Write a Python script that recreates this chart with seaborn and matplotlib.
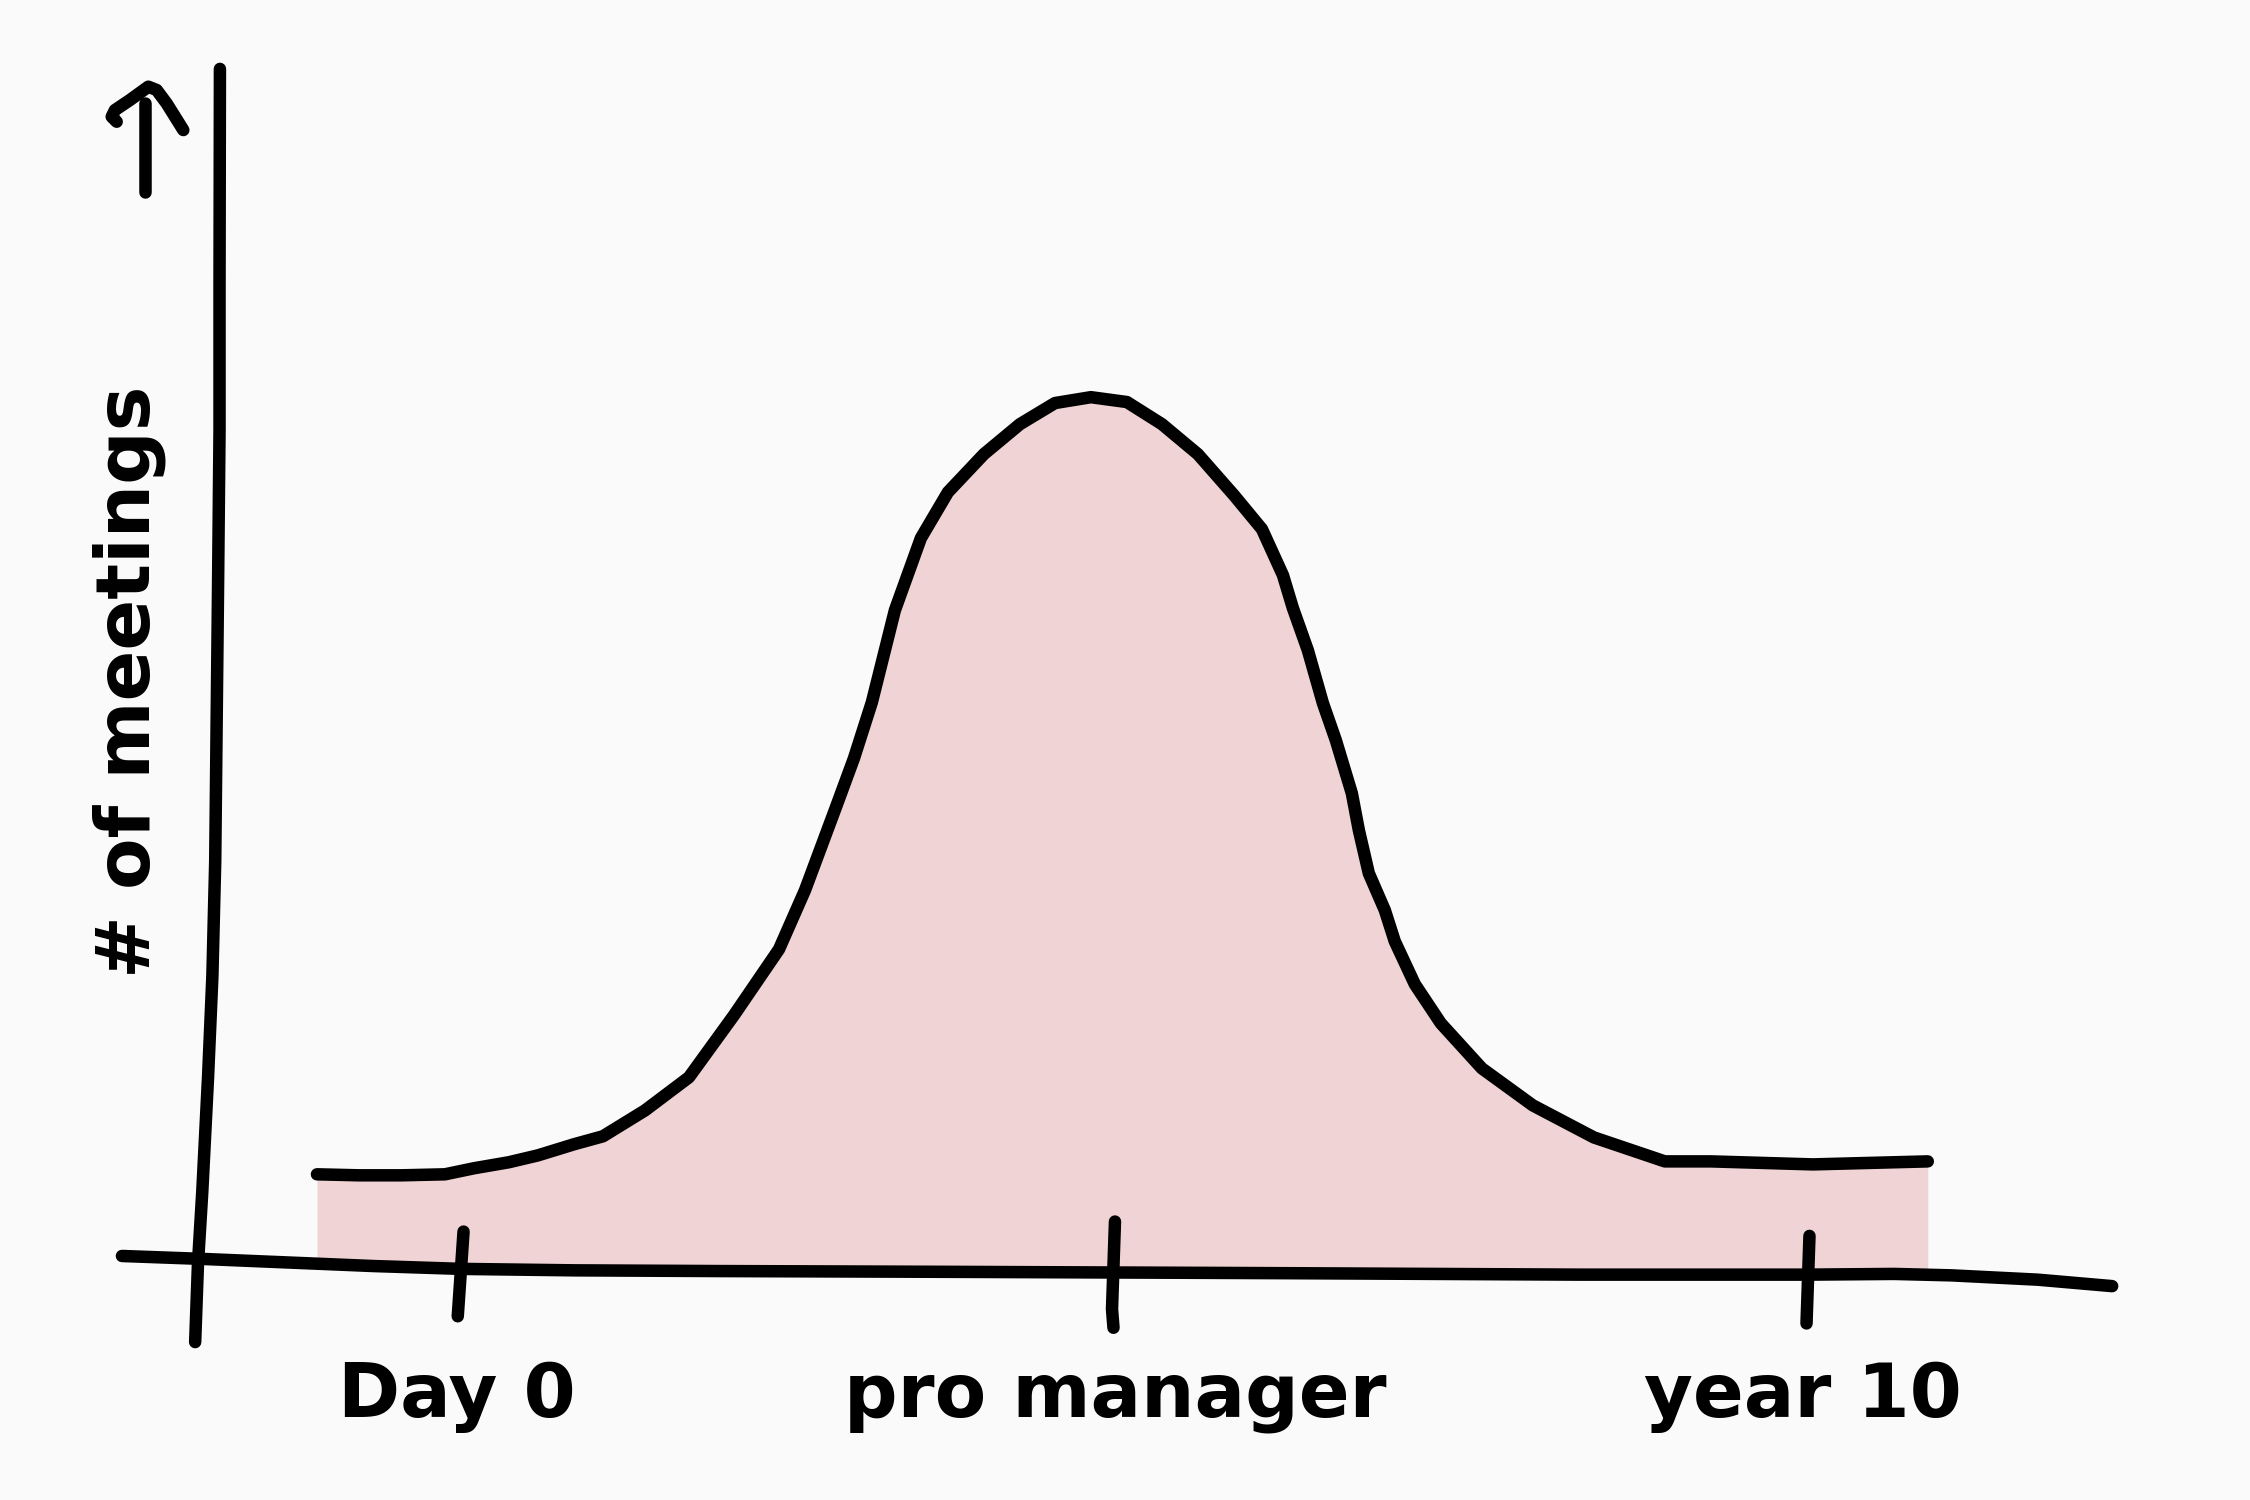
import numpy as np
import pandas as pd
import matplotlib
matplotlib.use("Agg")
import matplotlib.pyplot as plt
import seaborn as sns

# ---- data (x in years since day 0, y = # of meetings, arbitrary units) ----
curve_years = [-1.078, -0.766, -0.447, -0.127, 0.088, 0.348, 0.564, 0.831, 1.047, 1.359,
               1.686, 2.020, 2.355, 2.548, 2.786, 2.912, 3.045, 3.216, 3.409, 3.610,
               3.877, 4.145, 4.405, 4.672, 4.940, 5.200, 5.467, 5.735, 5.943, 6.099,
               6.173, 6.284, 6.396, 6.492, 6.611, 6.663, 6.737, 6.856, 6.930, 7.079,
               7.272, 7.577, 7.956, 8.409, 8.936, 9.278, 10.036, 10.890]
curve_meetings = [6.19, 6.12, 6.12, 6.19, 6.61, 7.03, 7.51, 8.28, 8.84, 10.64,
                  12.95, 17.27, 21.87, 25.98, 31.97, 35.18, 39.08, 45.49, 50.51, 53.71,
                  56.36, 58.45, 59.92, 60.33, 59.99, 58.45, 56.36, 53.50, 51.14, 47.93,
                  45.63, 42.70, 39.01, 36.43, 32.73, 30.16, 27.16, 24.59, 22.42, 19.43,
                  16.71, 13.57, 10.99, 8.76, 7.09, 7.09, 6.88, 7.09]

# hand-drawn axes paths
xaxis_years = [-2.527, -1.940, -1.301, -0.661, 0.0, 0.832, 1.898, 3.497, 4.840, 6.162,
               7.228, 8.294, 9.360, 10.0, 10.64, 11.066, 11.706, 12.26]
xaxis_level = [0.5, 0.3, 0.05, -0.2, -0.4, -0.5, -0.55, -0.6, -0.65, -0.7,
               -0.75, -0.8, -0.8, -0.8, -0.75, -0.85, -1.15, -1.6]
yaxis_years = [-1.799, -1.802, -1.802, -1.812, -1.823, -1.834, -1.855, -1.887, -1.930, -1.962, -1.983]
yaxis_level = [83.2, 68.0, 58.0, 48.0, 38.0, 28.0, 20.0, 13.0, 5.0, 0.0, -5.5]

tick_labels = ["Day 0", "pro manager", "year 10"]
tick_label_x = [-0.04, 4.85, 9.96]
tick_paths_x = [[0.011, -0.032], [4.851, 4.829, 4.840], [10.011, 9.989]]
tick_paths_y = [[2.2, -3.7], [2.9, -3.2, -4.5], [1.9, -4.2]]

arrow_shaft_x = [-2.356, -2.356]
arrow_shaft_y = [80.80, 74.64]
arrow_head_x = [-2.566, -2.603, -2.579, -2.468, -2.331, -2.269, -2.195, -2.071]
arrow_head_y = [79.52, 79.87, 80.33, 81.03, 81.96, 81.73, 80.80, 78.94]

y_label = "# of meetings"

# ---- style ----
BG = "#fafafa"
FILL = "#f0d4d5"
INK = "#000000"
sns.set_theme(style="white", rc={"figure.facecolor": BG, "axes.facecolor": BG})
plt.rcParams["font.family"] = ["DejaVu Sans"]

fig = plt.figure(figsize=(15, 10), dpi=150)
ax = fig.add_axes([0, 0, 1, 1])
ax.set_xlim(-3.433, 13.284)
ax.set_ylim(-16.5, 88.0)
ax.axis("off")

df = pd.DataFrame({"years": curve_years, "meetings": curve_meetings})

# fill under the curve down to the hand-drawn x-axis
lower = np.interp(df["years"], xaxis_years, xaxis_level)
ax.fill_between(df["years"], lower, df["meetings"], color=FILL, linewidth=0, zorder=1)

lw = 6.0
sns.lineplot(data=df, x="years", y="meetings", sort=False, estimator=None,
             color=INK, linewidth=lw, ax=ax, zorder=3)
for ln in ax.lines:
    ln.set_solid_capstyle("round")
    ln.set_solid_joinstyle("round")

kw = dict(color=INK, linewidth=lw, solid_capstyle="round", solid_joinstyle="round", zorder=4)
ax.plot(xaxis_years, xaxis_level, **kw)
ax.plot(yaxis_years, yaxis_level, **kw)
for px, py in zip(tick_paths_x, tick_paths_y):
    ax.plot(px, py, **kw)
ax.plot(arrow_shaft_x, arrow_shaft_y, **kw)
ax.plot(arrow_head_x, arrow_head_y, **kw)

for lab, tx in zip(tick_labels, tick_label_x):
    ax.text(tx, -9.3, lab, ha="center", va="center", fontsize=36,
            fontweight="bold", color=INK)

ax.text(-2.47, 40.5, y_label, rotation=90, ha="center", va="center",
        fontsize=36, fontweight="bold", color=INK)

fig.savefig("out.png", dpi=150, facecolor=BG)
